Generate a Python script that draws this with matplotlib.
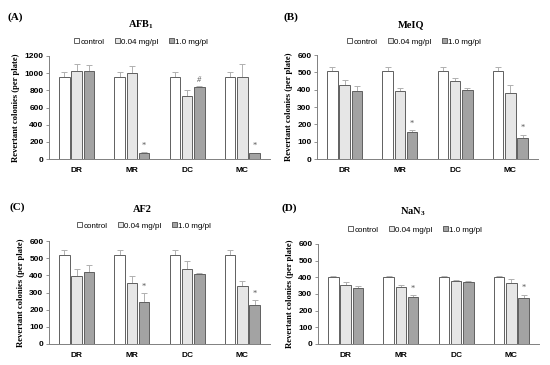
#Import the required packages
import numpy as np
import matplotlib
matplotlib.use("Agg")
import matplotlib.pyplot as plt

#Fonts: Times-like serif for titles, Arial-like sans for ticks
plt.rcParams["mathtext.fontset"] = "custom"
plt.rcParams["mathtext.rm"] = "Liberation Serif:bold"
plt.rcParams["mathtext.it"] = "Liberation Serif:bold"
plt.rcParams["mathtext.bf"] = "Liberation Serif:bold"

#Data
groups = ["DR", "MR", "DC", "MC"]
series = ["control", "0.04 mg/pl", "1.0 mg/pl"]

afb1_control = [960, 960, 960, 960]
afb1_low = [1020, 1005, 730, 955]
afb1_high = [1025, 65, 840, 65]
afb1_control_err = [50, 50, 50, 50]
afb1_low_err = [85, 80, 75, 150]
afb1_high_err = [75, 15, 8, 10]
afb1_marks = ["", "*", "#", "*"]

meiq_control = [510, 510, 510, 510]
meiq_low = [425, 390, 452, 380]
meiq_high = [390, 155, 397, 122]
meiq_control_err = [18, 18, 18, 18]
meiq_low_err = [30, 22, 18, 45]
meiq_high_err = [30, 10, 15, 18]
meiq_marks = ["", "*", "", "*"]

af2_control = [520, 520, 520, 520]
af2_low = [398, 357, 436, 340]
af2_high = [420, 246, 406, 230]
af2_control_err = [25, 25, 25, 25]
af2_low_err = [38, 40, 48, 25]
af2_high_err = [38, 50, 5, 25]
af2_marks = ["", "*", "", "*"]

nan3_control = [405, 405, 405, 405]
nan3_low = [356, 342, 379, 367]
nan3_high = [334, 282, 372, 278]
nan3_control_err = [3, 3, 3, 3]
nan3_low_err = [18, 15, 3, 25]
nan3_high_err = [15, 12, 5, 18]
nan3_marks = ["", "*", "", "*"]

colors = ["white", "#e6e6e6", "#a3a3a3"]
serif = "Liberation Serif"
sans = "Liberation Sans"

fig = plt.figure(figsize=(5.5, 3.65), dpi=100)

W, H = 550.0, 365.0
def px_axes(x0, y0, x1, y1):
    return fig.add_axes([x0 / W, 1 - y1 / H, (x1 - x0) / W, (y1 - y0) / H])

panels = [
    dict(box=(49, 56, 270, 159), ymax=1200, step=200, label="(A)", lab_xy=(8, 17),
         title="AFB$_1$", tit_xy=(141, 25), leg_xy=(141, 42),
         vals=[afb1_control, afb1_low, afb1_high],
         errs=[afb1_control_err, afb1_low_err, afb1_high_err], marks=afb1_marks),
    dict(box=(317, 55, 538, 159), ymax=600, step=100, label="(B)", lab_xy=(283, 17),
         title="MeIQ", tit_xy=(411, 25), leg_xy=(414, 42),
         vals=[meiq_control, meiq_low, meiq_high],
         errs=[meiq_control_err, meiq_low_err, meiq_high_err], marks=meiq_marks),
    dict(box=(49, 241, 270, 344), ymax=600, step=100, label="(C)", lab_xy=(10, 207),
         title="AF2", tit_xy=(142, 209), leg_xy=(144, 226),
         vals=[af2_control, af2_low, af2_high],
         errs=[af2_control_err, af2_low_err, af2_high_err], marks=af2_marks),
    dict(box=(318, 244, 539, 344), ymax=600, step=100, label="(D)", lab_xy=(281, 208),
         title="NaN$_3$", tit_xy=(413, 212), leg_xy=(415, 230),
         vals=[nan3_control, nan3_low, nan3_high],
         errs=[nan3_control_err, nan3_low_err, nan3_high_err], marks=nan3_marks),
]

x = np.arange(len(groups))
width = 0.19
offsets = [-0.22, 0, 0.22]

for p in panels:
    ax = px_axes(*p["box"])
    handles = []
    for i in range(3):
        b = ax.bar(x + offsets[i], p["vals"][i], width, color=colors[i],
                   edgecolor="#606060", linewidth=0.7, label=series[i], zorder=2)
        ax.errorbar(x + offsets[i], p["vals"][i], yerr=[np.zeros(4), p["errs"][i]],
                    fmt="none", ecolor="#b0b0b0", elinewidth=0.7, capsize=2,
                    capthick=0.7, zorder=1)
        handles.append(b)
    #significance marks above the high-dose bars
    for j, m in enumerate(p["marks"]):
        if m:
            top = p["vals"][2][j] + p["errs"][2][j] + p["ymax"] * 0.025
            ax.text(x[j] + offsets[2], top, m, ha="center", va="bottom",
                    fontsize=6, color="#555555", family=serif,
                    style="italic" if m == "#" else "normal")
    ax.set_xlim(-0.5, 3.5)
    ax.set_ylim(0, p["ymax"])
    ax.set_yticks(np.arange(0, p["ymax"] + 1, p["step"]))
    ax.set_xticks(x)
    ax.set_xticklabels(groups)
    for t in ax.get_xticklabels() + ax.get_yticklabels():
        t.set_fontfamily(sans)
        t.set_fontweight("bold")
        t.set_fontsize(6)
    ax.tick_params(axis="x", length=0, pad=6)
    ax.tick_params(axis="y", length=2, width=0.6, color="#808080", pad=2)
    for s in ["top", "right"]:
        ax.spines[s].set_visible(False)
    for s in ["left", "bottom"]:
        ax.spines[s].set_color("#808080")
        ax.spines[s].set_linewidth(0.7)
    ax.set_ylabel("Revertant colonies (per plate)", family=serif, fontweight="bold",
                  fontsize=6.2, labelpad=3)
    leg = ax.legend(handles=handles, loc="center",
                    bbox_to_anchor=(p["leg_xy"][0] / W, 1 - p["leg_xy"][1] / H),
                    bbox_transform=fig.transFigure, ncol=3, frameon=False,
                    handlelength=0.6, handleheight=0.6, handletextpad=0.15,
                    columnspacing=1.3, prop={"family": sans, "size": 5.8})
    fig.text(p["tit_xy"][0] / W, 1 - p["tit_xy"][1] / H, p["title"], ha="center",
             va="center", family=serif, fontweight="bold", fontsize=7.5)
    fig.text(p["lab_xy"][0] / W, 1 - p["lab_xy"][1] / H, p["label"], ha="left",
             va="center", family=serif, fontweight="bold", fontsize=8)

#Save the plot
fig.savefig("out.png", dpi=100)
